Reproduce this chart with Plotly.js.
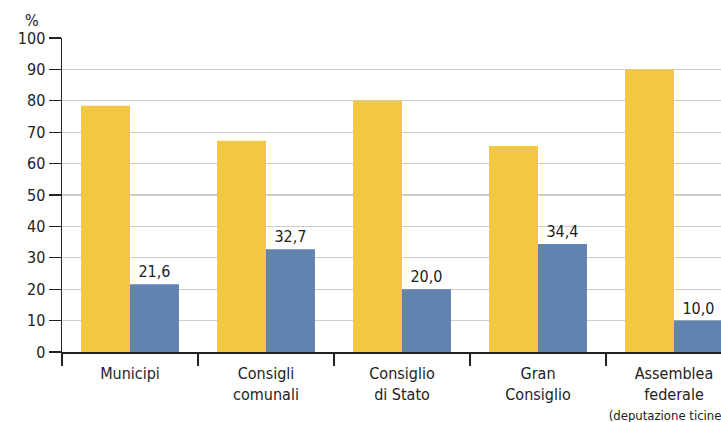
<!DOCTYPE html>
<html><head><meta charset="utf-8">
<script src="https://cdn.plot.ly/plotly-3.0.1.min.js"></script>
<style>html,body{margin:0;padding:0;overflow:hidden;background:#fff;}#chart{width:770px;height:422px;}</style>
</head><body><div id="chart"></div>
<script>
const categories = [
  "Municipi",
  "Consigli<br>comunali",
  "Consiglio<br>di Stato",
  "Gran<br>Consiglio",
  "Assemblea<br>federale<br><span style=\"font-size:13px\">(deputazione ticinese)</span>"
];
const uomini = [78.4, 67.3, 80.0, 65.6, 90.0];
const donne = [21.6, 32.7, 20.0, 34.4, 10.0];

const FONT = "Liberation Sans Narrow, DejaVu Sans Condensed, Arial Narrow, sans-serif";
const traces = [
  {type: "bar", x: categories, y: uomini, name: "Uomini",
   marker: {color: "#F2C744", line: {width: 0}}, hoverinfo: "y"},
  {type: "bar", x: categories, y: donne, name: "Donne",
   marker: {color: "#6183AF", line: {width: 0}},
   texttemplate: "%{y:.1f}", textposition: "outside", cliponaxis: false,
   textfont: {family: FONT, size: 16, color: "#222"}}
];
const layout = {
  width: 770, height: 422,
  margin: {l: 62, r: 28, t: 38, b: 70},
  separators: ",.",
  barmode: "group", bargap: 0.28, bargroupgap: 0,
  showlegend: false,
  paper_bgcolor: "#fff", plot_bgcolor: "#fff",
  font: {family: FONT, size: 16, color: "#222"},
  xaxis: {
    type: "category", showline: true, linecolor: "#222", linewidth: 1.5,
    ticks: "outside", tickson: "boundaries", ticklen: 12, tickcolor: "#222", tickwidth: 1.2,
    showgrid: false, zeroline: false, tickangle: 0, ticklabelstandoff: 6,
    tickfont: {family: FONT, size: 16, color: "#222"},
    range: [-0.5, 4.5]
  },
  yaxis: {
    range: [0, 100], dtick: 10, showline: true, linecolor: "#222", linewidth: 1.5,
    ticks: "outside", ticklen: 12, tickcolor: "#222", tickwidth: 1.2,
    showgrid: true, gridcolor: "#cccccc", gridwidth: 1.2, zeroline: false,
    tickfont: {family: FONT, size: 16, color: "#222"}
  },
  annotations: [
    {text: "%", xref: "paper", yref: "paper", x: 0, y: 1, xshift: -39, yshift: 18,
     showarrow: false, xanchor: "left", yanchor: "middle",
     font: {family: FONT, size: 16, color: "#222"}}
  ]
};
Plotly.newPlot("chart", traces, layout, {displayModeBar: false, staticPlot: true});
</script></body></html>
